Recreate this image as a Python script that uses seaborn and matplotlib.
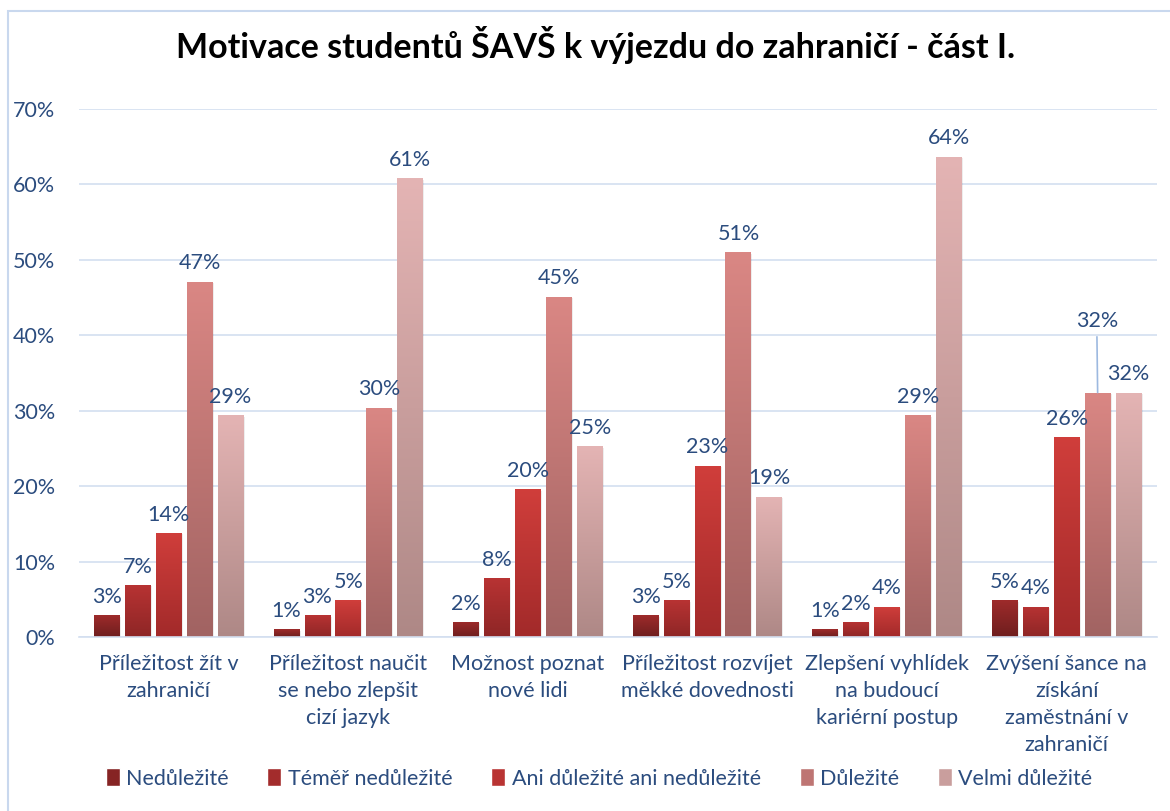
import matplotlib
matplotlib.use("Agg")
import matplotlib.pyplot as plt
import matplotlib.colors as mcolors
from matplotlib.patches import Rectangle, Patch
import numpy as np
import pandas as pd
import seaborn as sns

# data
kategorie = [
    "Příležitost žít v\nzahraničí",
    "Příležitost naučit\nse nebo zlepšit\ncizí jazyk",
    "Možnost poznat\nnové lidi",
    "Příležitost rozvíjet\nměkké dovednosti",
    "Zlepšení vyhlídek\nna budoucí\nkariérní postup",
    "Zvýšení šance na\nzískání\nzaměstnání v\nzahraničí",
]
urovne = ["Nedůležité", "Téměř nedůležité", "Ani důležité ani nedůležité", "Důležité", "Velmi důležité"]

nedulezite = [0.029, 0.010, 0.020, 0.029, 0.010, 0.049]
temer_nedulezite = [0.069, 0.029, 0.078, 0.049, 0.020, 0.040]
ani = [0.138, 0.049, 0.196, 0.227, 0.040, 0.265]
dulezite = [0.471, 0.304, 0.451, 0.510, 0.294, 0.324]
velmi = [0.294, 0.608, 0.253, 0.186, 0.637, 0.324]

# gradient colours (top, bottom) per level
barvy = {
    "Nedůležité": ("#9E2B2B", "#6E1E1E"),
    "Téměř nedůležité": ("#B83333", "#8E2626"),
    "Ani důležité ani nedůležité": ("#D03E3B", "#A22A2A"),
    "Důležité": ("#DA8784", "#A16362"),
    "Velmi důležité": ("#E4B4B4", "#AE8886"),
}
modra = "#2B4C7E"
fs = 15.5

serie = [nedulezite, temer_nedulezite, ani, dulezite, velmi]
df = pd.DataFrame({
    "kategorie": np.repeat([kategorie], len(urovne), axis=0).ravel(),
    "uroven": np.repeat(urovne, len(kategorie)),
    "hodnota": np.concatenate(serie),
})

sns.set_theme(style="white")
plt.rcParams["font.family"] = ["Lato", "DejaVu Sans"]

fig = plt.figure(figsize=(11.7, 8.11), dpi=100)
ax = fig.add_axes([0.0675, 0.2146, 0.921, 0.651])

sns.barplot(data=df, x="kategorie", y="hodnota", hue="uroven", order=kategorie,
            hue_order=urovne, width=0.86, gap=0.16, ax=ax, legend=False,
            palette=[barvy[u][0] for u in urovne])

ax.set_ylim(0, 0.70)
ax.set_xlim(-0.5, len(kategorie) - 0.5)

# gradient fill for each bar
grad = np.linspace(0, 1, 256).reshape(-1, 1)
for i, u in enumerate(urovne):
    cmap = mcolors.LinearSegmentedColormap.from_list(u, [barvy[u][1], barvy[u][0]])
    for j in range(len(kategorie)):
        p = ax.patches[i * len(kategorie) + j]
        x0, w, h = p.get_x(), p.get_width(), p.get_height()
        # soft shadow
        ax.add_patch(Rectangle((x0 + 0.006, -0.002), w, h, color="#000000", alpha=0.07,
                               lw=0, zorder=1.5))
        im = ax.imshow(grad, extent=(x0, x0 + w, 0, h), origin="lower", cmap=cmap,
                       aspect="auto", zorder=2)
        im.set_clip_path(p)
        p.set_facecolor("none")
        p.set_edgecolor("none")
        p.set_zorder(2)

        # data labels
        txt = f"{round(serie[i][j] * 100)}%"
        if i == 3 and j == 5:
            ax.annotate(txt, xy=(x0 + w / 2, h), xytext=(x0 + w / 2 - 0.005, h + 0.082),
                        ha="center", va="bottom", fontsize=fs, color=modra,
                        arrowprops=dict(arrowstyle="-", color="#9DB9E0", lw=1.2,
                                        shrinkA=2, shrinkB=0))
        else:
            ax.annotate(txt, xy=(x0 + w / 2, h), xytext=(0, 6), textcoords="offset points",
                        ha="center", va="bottom", fontsize=fs, color=modra)

ax.set_yticks(np.arange(0, 0.71, 0.1))
ax.set_yticklabels([f"{v}%" for v in range(0, 71, 10)])
ax.yaxis.grid(True, color="#D3DFF0", lw=1.2)
ax.set_axisbelow(True)
ax.tick_params(axis="y", labelsize=fs, labelcolor=modra, length=0, pad=17)
ax.tick_params(axis="x", labelsize=fs, labelcolor=modra, length=0, pad=12)
for t in ax.get_xticklabels():
    t.set_linespacing(1.45)
ax.set_xlabel("")
ax.set_ylabel("")
for s in ["top", "right", "left"]:
    ax.spines[s].set_visible(False)
ax.spines["bottom"].set_color("#D3DFF0")
ax.spines["bottom"].set_linewidth(1.2)

fig.suptitle("Motivace studentů ŠAVŠ k výjezdu do zahraničí - část I.", x=0.509, y=0.968,
             fontsize=24.5, fontweight="bold", color="black")

handles = [Patch(facecolor=mcolors.to_hex(np.mean([mcolors.to_rgb(c) for c in barvy[u]], axis=0)),
                 label=u) for u in urovne]
fig.legend(handles=handles, loc="center", bbox_to_anchor=(0.512, 0.04), ncol=5, frameon=False,
           fontsize=fs, labelcolor=modra, handlelength=0.65, handleheight=0.9,
           handletextpad=0.3, columnspacing=1.8)

# chart border
fig.add_artist(Rectangle((0.0068, -0.05), 1.2, 0.0365 + 1.0, transform=fig.transFigure,
                         fill=False, edgecolor="#C9D8EE", lw=1.5))

fig.savefig("out.png", dpi=100)
